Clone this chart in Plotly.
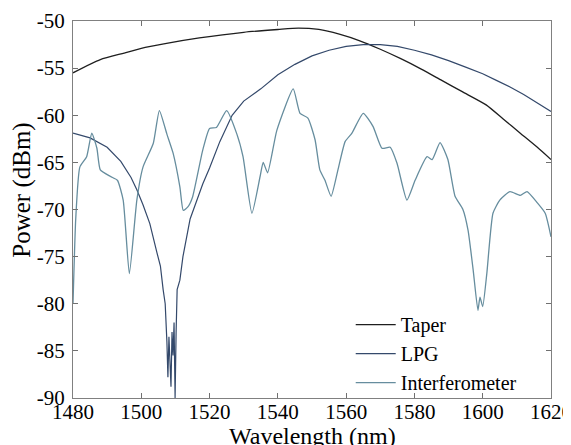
import plotly.graph_objects as go

# Taper
taper_wl = [1480, 1488, 1495, 1500, 1507, 1517, 1530, 1540, 1546, 1552, 1558, 1564,
            1570, 1576, 1582, 1588, 1594, 1601, 1606, 1611, 1616, 1620]
taper_db = [-55.5, -54.1, -53.4, -52.9, -52.4, -51.8, -51.2, -50.9, -50.75, -50.9, -51.4, -52.1,
            -53.0, -54.0, -55.1, -56.3, -57.5, -58.9, -60.4, -61.9, -63.4, -64.7]

# LPG
lpg_wl = [1480, 1485, 1490, 1494, 1497, 1498.7, 1500.5, 1502.5, 1504.6, 1505.6, 1506.4,
          1507, 1507.5, 1507.8, 1508.1, 1508.4, 1508.7, 1509, 1509.3, 1509.6, 1509.9,
          1510.2, 1510.5, 1511.3, 1512.2, 1514.3, 1516.3, 1518, 1520, 1523, 1526.6,
          1530, 1535, 1540, 1545, 1550, 1555, 1560, 1565, 1570, 1575, 1580, 1585,
          1590, 1595, 1600, 1604, 1608, 1612, 1616, 1620]
lpg_db = [-61.9, -62.4, -63.4, -64.9, -66.6, -67.9, -69.5, -71.5, -74.6, -76.0, -78.5,
          -80.0, -84.0, -87.8, -83.5, -86.5, -88.8, -83.0, -85.5, -82.0, -90.0,
          -83.0, -78.5, -77.5, -75.0, -71.0, -69.0, -67.3, -65.6, -62.8, -60.0,
          -58.5, -57.2, -55.7, -54.6, -53.7, -53.1, -52.7, -52.5, -52.5, -52.7, -53.1, -53.6,
          -54.2, -54.9, -55.6, -56.3, -57.0, -57.8, -58.7, -59.6]

# Interferometer
int_wl = [1480, 1480.8, 1482, 1484, 1485.5, 1487, 1488, 1491, 1493, 1494.7, 1496.5,
          1498.7, 1500.5, 1503.5, 1505.3, 1507.5, 1509.3, 1511.3, 1512.3, 1513.7, 1515,
          1518, 1520, 1522, 1525, 1528, 1529.8, 1532.4, 1534.8, 1535.7, 1537, 1539.7,
          1544.5, 1546.5, 1548.8, 1550.9, 1552.3, 1553.8, 1555.6, 1557.6, 1559.7, 1561.7,
          1565, 1567.9, 1570.5, 1572.9, 1574.9, 1577.8, 1580.2, 1583.7, 1585.2, 1587.5,
          1589.8, 1591.9, 1594.2, 1595.7, 1597.2, 1598.6, 1599.2, 1600, 1601.2, 1603,
          1605, 1608, 1611, 1613, 1616, 1618.3, 1620]
int_db = [-80.0, -71.0, -65.5, -64.4, -61.9, -63.5, -65.8, -66.5, -66.9, -69.0, -76.8,
          -69.0, -65.5, -63.0, -59.5, -62.0, -64.0, -67.6, -70.1, -69.7, -68.7,
          -63.7, -61.4, -61.3, -59.5, -62.0, -64.4, -70.4, -66.5, -65.0, -66.1, -61.6,
          -57.2, -59.8, -60.3, -62.6, -65.8, -66.9, -68.6, -65.8, -62.8, -61.9,
          -59.8, -61.2, -63.5, -63.4, -65.1, -69.0, -66.9, -64.4, -64.7, -62.9,
          -64.7, -68.6, -70.0, -72.2, -76.4, -80.7, -79.3, -80.3, -76.8, -70.4,
          -69.0, -68.1, -68.5, -68.1, -69.3, -70.4, -72.9]

x_ticks = [1480, 1500, 1520, 1540, 1560, 1580, 1600, 1620]
y_ticks = [-90, -85, -80, -75, -70, -65, -60, -55, -50]
y_labels = ["-90", "-85", "-80", "-75", "-70", "-65", "-60", "-55", "-50"]

serif = "Liberation Serif"

fig = go.Figure()
fig.add_trace(go.Scatter(x=taper_wl, y=taper_db, name="Taper", mode="lines",
                         line=dict(color="#1e1e1e", width=1.3, shape="spline", smoothing=0.6)))
fig.add_trace(go.Scatter(x=lpg_wl, y=lpg_db, name="LPG", mode="lines",
                         line=dict(color="#34496b", width=1.2)))
fig.add_trace(go.Scatter(x=int_wl, y=int_db, name="Interferometer", mode="lines",
                         line=dict(color="#668d9e", width=1.3, shape="spline", smoothing=0.5)))

# page body adds ~8px offset, so figure is 8px smaller than the window
fig.update_layout(
    width=563, height=437,
    margin=dict(l=65, r=20, t=13, b=47, autoexpand=False),
    paper_bgcolor="white", plot_bgcolor="white",
    font=dict(family=serif, size=21, color="black"),
    showlegend=True,
    legend=dict(x=0.581, y=-0.011, xanchor="left", yanchor="bottom",
                bgcolor="rgba(0,0,0,0)", font=dict(family=serif, size=20, color="black"),
                tracegroupgap=0, itemwidth=40),
    annotations=[
        dict(text="Power (dBm)", textangle=-90, xref="paper", yref="paper",
             x=-0.107, y=0.552, xanchor="center", yanchor="middle",
             showarrow=False, font=dict(family=serif, size=25, color="black")),
        dict(text="Wavelength (nm)", xref="paper", yref="paper",
             x=0.5, y=-0.1, xanchor="center", yanchor="middle",
             showarrow=False, font=dict(family=serif, size=24, color="black")),
    ],
)
fig.update_xaxes(range=[1480, 1620], tickvals=x_ticks, ticks="inside", ticklen=5,
                 tickcolor="#707070", showline=True, linecolor="#808080", linewidth=1,
                 mirror="ticks", showgrid=False, zeroline=False, automargin=False,
                 ticklabeloverflow="allow", ticklabelstandoff=-5)
fig.update_yaxes(range=[-90, -50], tickvals=y_ticks, ticktext=y_labels, ticks="inside", ticklen=5,
                 tickcolor="#707070", showline=True, linecolor="#808080", linewidth=1,
                 mirror="ticks", showgrid=False, zeroline=False, automargin=False,
                 ticklabelstandoff=3)
fig.write_html("out.html")
